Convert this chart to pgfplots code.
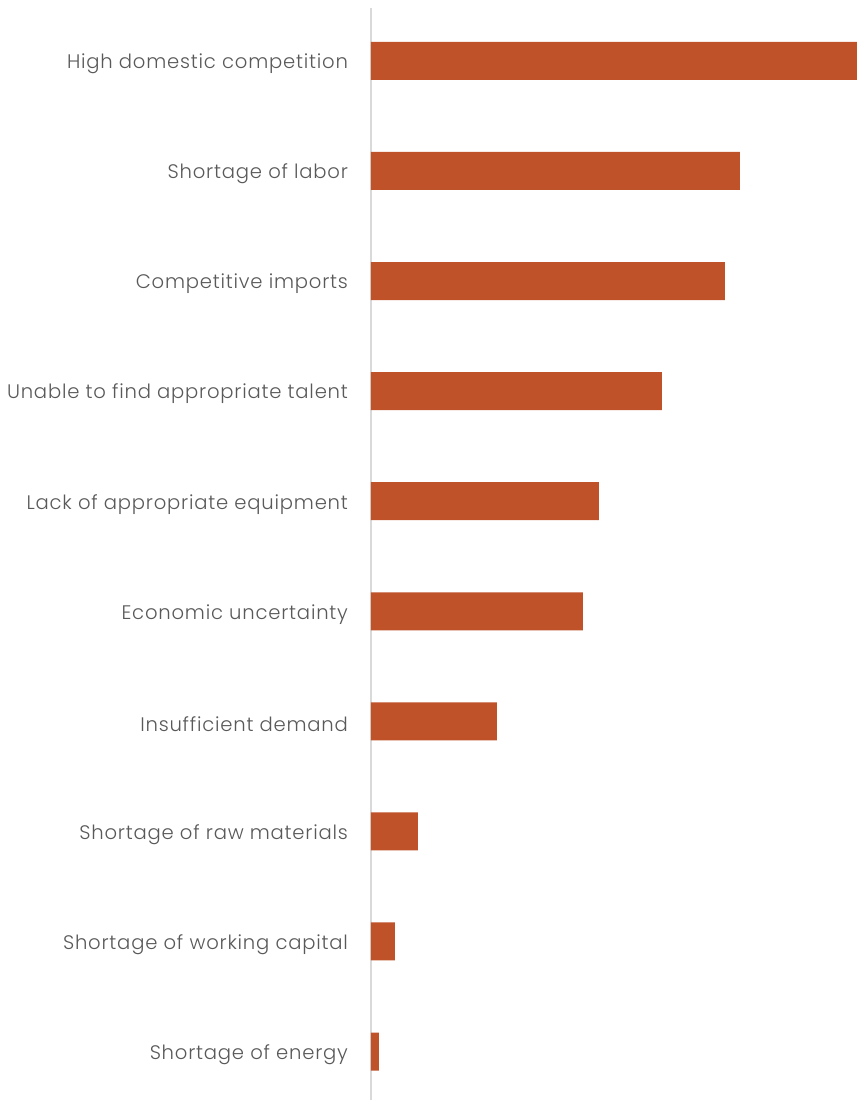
\documentclass[border=0pt]{standalone}
\usepackage{pgfplots}
\pgfplotsset{compat=1.18}
\usepackage{fontspec}
\setmainfont{Poppins}[UprightFont=* Light, LetterSpace=4]
\definecolor{barc}{RGB}{191,82,40}
\definecolor{labc}{RGB}{89,89,89}
\definecolor{axc}{RGB}{217,217,217}
\begin{document}
\begin{tikzpicture}[x=1pt,y=1pt]
\path[use as bounding box] (0,0) rectangle (428.5,550);
\begin{axis}[
  at={(185.5pt,0pt)}, anchor=south west,
  scale only axis, width=243pt, height=546pt,
  xbar, bar width=19pt,
  xmin=0, xmax=486,
  ymin=-0.48, ymax=9.44, y dir=reverse,
  ytick={0,...,9},
  yticklabels={High domestic competition,Shortage of labor,Competitive imports,Unable to find appropriate talent,Lack of appropriate equipment,Economic uncertainty,Insufficient demand,Shortage of raw materials,Shortage of working capital,Shortage of energy},
  y tick label style={font=\fontsize{9.8}{11}\selectfont, text=labc, xshift=-8pt, yshift=-1.5pt},
  major tick length=0pt,
  axis x line=none,
  axis y line*=left,
  y axis line style={axc, line width=1pt, -},
  xtick=\empty,
  clip=false,
]
\addplot[fill=barc, draw=none] coordinates {
(486,0) (369,1) (354,2) (291,3) (228,4) (212,5) (126,6) (47,7) (24,8) (8,9)
};
\end{axis}
\end{tikzpicture}
\end{document}
